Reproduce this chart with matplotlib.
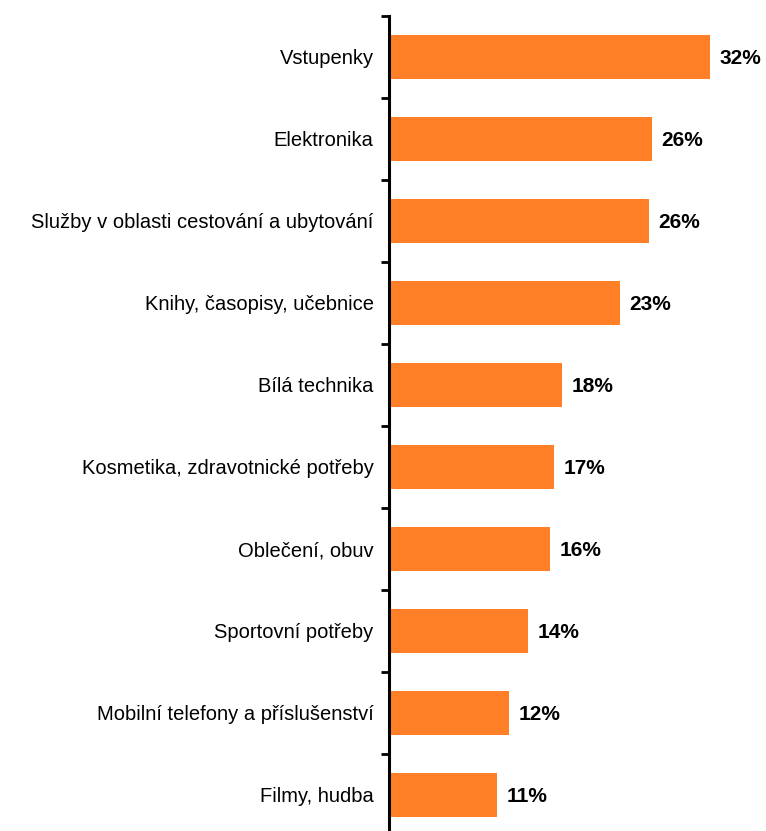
import numpy as np
import matplotlib.pyplot as plt

plt.rcParams['font.family'] = ['Liberation Sans', 'DejaVu Sans']

# Data
kategorie = ['Vstupenky', 'Elektronika', 'Služby v oblasti cestování a ubytování',
             'Knihy, časopisy, učebnice', 'Bílá technika',
             'Kosmetika, zdravotnické potřeby', 'Oblečení, obuv',
             'Sportovní potřeby', 'Mobilní telefony a příslušenství', 'Filmy, hudba']
hodnoty = [32.0, 26.2, 25.9, 23.0, 17.3, 16.5, 16.1, 13.9, 12.0, 10.8]
popisky = ['32%', '26%', '26%', '23%', '18%', '17%', '16%', '14%', '12%', '11%']

fig = plt.figure(figsize=(7.66, 8.31), dpi=100)
ax = fig.add_axes([389 / 766, -5 / 831, 376 / 766, 820 / 831])

y = np.arange(len(kategorie))
ax.barh(y, hodnoty, height=0.53, color='#FF7F27')
ax.set_xlim(0, 37.5)
ax.set_ylim(len(kategorie) - 0.5, -0.5)

for yi, v, t in zip(y, hodnoty, popisky):
    ax.text(v + 0.95, yi, t, va='center_baseline', ha='left', fontsize=15, fontweight='bold')

for s in ['top', 'right', 'bottom']:
    ax.spines[s].set_visible(False)
ax.spines['left'].set_linewidth(2.2)
ax.set_xticks([])

# popisky kategorii a carky mezi kategoriemi
ax.set_yticks(y, kategorie, fontsize=14.5)
ax.tick_params(axis='y', which='major', length=0, pad=11)
ax.set_yticks(np.arange(len(kategorie) + 1) - 0.5, minor=True)
ax.tick_params(axis='y', which='minor', length=6, width=2)

fig.savefig('out.png', dpi=100)
